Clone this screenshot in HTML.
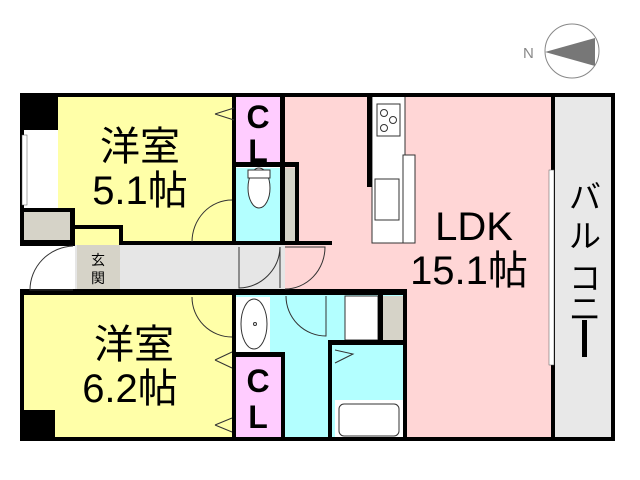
<!DOCTYPE html>
<html><head><meta charset="utf-8"><style>
html,body{margin:0;padding:0;background:#fff;width:640px;height:480px;overflow:hidden}
svg{display:block}
text{font-family:"Liberation Sans","Noto Sans CJK JP",sans-serif}
</style></head><body>
<svg width="640" height="480" viewBox="0 0 640 480" xmlns="http://www.w3.org/2000/svg">
<circle cx="572" cy="51" r="27" fill="none" stroke="#888" stroke-width="1"/>
<polygon points="545,52 595,38 595,66" fill="#777"/>
<text x="523" y="58" font-size="15" fill="#888">N</text>

<rect x="285" y="95" width="268" height="345" fill="#ffd6d6"/>
<rect x="555" y="95" width="58" height="345" fill="#e8e8e8"/>
<rect x="58" y="95" width="176" height="150" fill="#ffffa8"/>
<rect x="22" y="295" width="212" height="145" fill="#ffffa8"/>
<rect x="75" y="245" width="210" height="45" fill="#e6e6e6"/>
<rect x="77" y="245" width="43" height="44" fill="#d6d3c8"/>
<rect x="236" y="95" width="46" height="67" fill="#ffccff"/>
<rect x="236" y="168" width="46" height="76" fill="#b3ffff"/>
<rect x="285" y="168" width="12" height="76" fill="#d6d3c8"/>
<rect x="234" y="295" width="171" height="145" fill="#b3ffff"/>
<rect x="236" y="357" width="46" height="83" fill="#ffccff"/>
<rect x="236" y="297" width="34" height="56" fill="#fff"/>
<rect x="345" y="296" width="33" height="44" fill="#fff" stroke="#333"/>
<rect x="383" y="296" width="20" height="44" fill="#d6d3c8"/>
<rect x="335" y="400" width="68" height="38" fill="#fff"/>
<rect x="339" y="404" width="60" height="32" rx="5" fill="#fff" stroke="#333"/>
<ellipse cx="254" cy="324" rx="13" ry="25" fill="#fff" stroke="#333"/>
<circle cx="255" cy="324" r="1.5" fill="none" stroke="#333"/>
<ellipse cx="259" cy="188" rx="11" ry="20" fill="#fff" stroke="#333"/>
<rect x="248" y="170" width="22" height="8" fill="#fff" stroke="#333"/>
<rect x="372" y="95" width="33" height="148" fill="#fff" stroke="#333"/>
<rect x="377" y="104" width="23" height="32" fill="#fff" stroke="#333"/>
<circle cx="384" cy="113" r="3.5" fill="none" stroke="#333"/><circle cx="393" cy="120" r="3.5" fill="none" stroke="#333"/><circle cx="384" cy="128" r="3.5" fill="none" stroke="#333"/>
<rect x="375" y="179" width="24" height="41" fill="#fff" stroke="#333"/>
<rect x="403" y="155" width="12" height="88" fill="#fff" stroke="#333"/>
<rect x="22" y="95" width="36" height="35" fill="#000"/>
<rect x="22" y="410" width="33" height="30" fill="#000"/>
<rect x="22" y="212" width="51" height="33" fill="#d6d3c8"/>
<g fill="#000">
<rect x="20" y="93" width="593" height="4"/>
<rect x="20" y="437" width="593" height="4"/>
<rect x="20" y="93" width="4" height="150"/>
<rect x="20" y="295" width="4" height="146"/>
<rect x="20" y="208" width="55" height="4"/>
<rect x="20" y="240" width="55" height="6"/>
<rect x="70" y="208" width="5" height="38"/>
<rect x="75" y="225" width="47" height="4"/>
<rect x="119" y="225" width="4" height="20"/>
<rect x="119" y="241" width="213" height="4"/>
<rect x="20" y="289" width="387" height="6"/>
<rect x="232" y="95" width="4" height="150"/>
<rect x="280" y="95" width="5" height="150"/>
<rect x="232" y="162" width="66" height="5"/>
<rect x="295" y="162" width="4" height="83"/>
<rect x="232" y="295" width="4" height="145"/>
<rect x="232" y="352" width="53" height="5"/>
<rect x="281" y="352" width="4" height="88"/>
<rect x="378" y="295" width="5" height="48"/>
<rect x="328" y="340" width="79" height="5"/>
<rect x="328" y="340" width="4" height="100"/>
<rect x="403" y="292" width="4" height="148"/>
<rect x="367" y="95" width="5" height="92"/>
<rect x="551" y="95" width="4" height="345"/>
<rect x="611" y="93" width="4" height="348"/>
</g>
<rect x="22" y="135" width="5" height="70" fill="#fff" stroke="#555" stroke-width=".5"/>
<rect x="549" y="170" width="5" height="195" fill="#fff" stroke="#555" stroke-width=".5"/>
<g fill="none" stroke="#333" stroke-width="1">
<path d="M73 246 A45 44 0 0 0 30 290 L73 290"/>
<path d="M232 200 A40 42 0 0 0 192 242"/>
<path d="M280 247 L280 288 M280 247 A42 42 0 0 1 239 288 L239 247"/>
<path d="M285 247 L325 247 A40 42 0 0 1 285 289"/>
<path d="M232 337 A40 40 0 0 1 192 297"/>
<path d="M286 296 A40 40 0 0 0 326 336 L326 296"/>
<path d="M215 114 L234 108 M215 114 L234 120"/>
<path d="M215 360 L232 352 M215 360 L232 368"/>
<path d="M215 425 L232 418 M215 425 L232 432"/>
<path d="M335 350 L353 354 L335 363"/>
</g>
<text x="140" y="160" font-size="40" text-anchor="middle">洋室</text>
<text x="140" y="204" font-size="40" text-anchor="middle">5.1帖</text>
<text x="134" y="358" font-size="40" text-anchor="middle">洋室</text>
<text x="130" y="402" font-size="40" text-anchor="middle">6.2帖</text>
<text x="474" y="240" font-size="40" text-anchor="middle">LDK</text>
<text x="469" y="284" font-size="40" text-anchor="middle">15.1帖</text>
<text x="258" y="128" font-size="32" font-weight="bold" text-anchor="middle">C</text>
<text x="258" y="162" font-size="32" font-weight="bold" text-anchor="middle">L</text>
<text x="258" y="392" font-size="32" font-weight="bold" text-anchor="middle">C</text>
<text x="258" y="428" font-size="32" font-weight="bold" text-anchor="middle">L</text>
<text x="98" y="265" font-size="14" text-anchor="middle">玄</text>
<text x="98" y="283" font-size="14" text-anchor="middle">関</text>
<text x="585" y="208" font-size="32" text-anchor="middle">バ</text>
<text x="585" y="247" font-size="32" text-anchor="middle">ル</text>
<text x="585" y="289" font-size="32" text-anchor="middle">コ</text>
<text x="585" y="320" font-size="32" text-anchor="middle">ニ</text>
<rect x="582" y="320" width="5" height="37" fill="#000"/>
</svg>
</body></html>
